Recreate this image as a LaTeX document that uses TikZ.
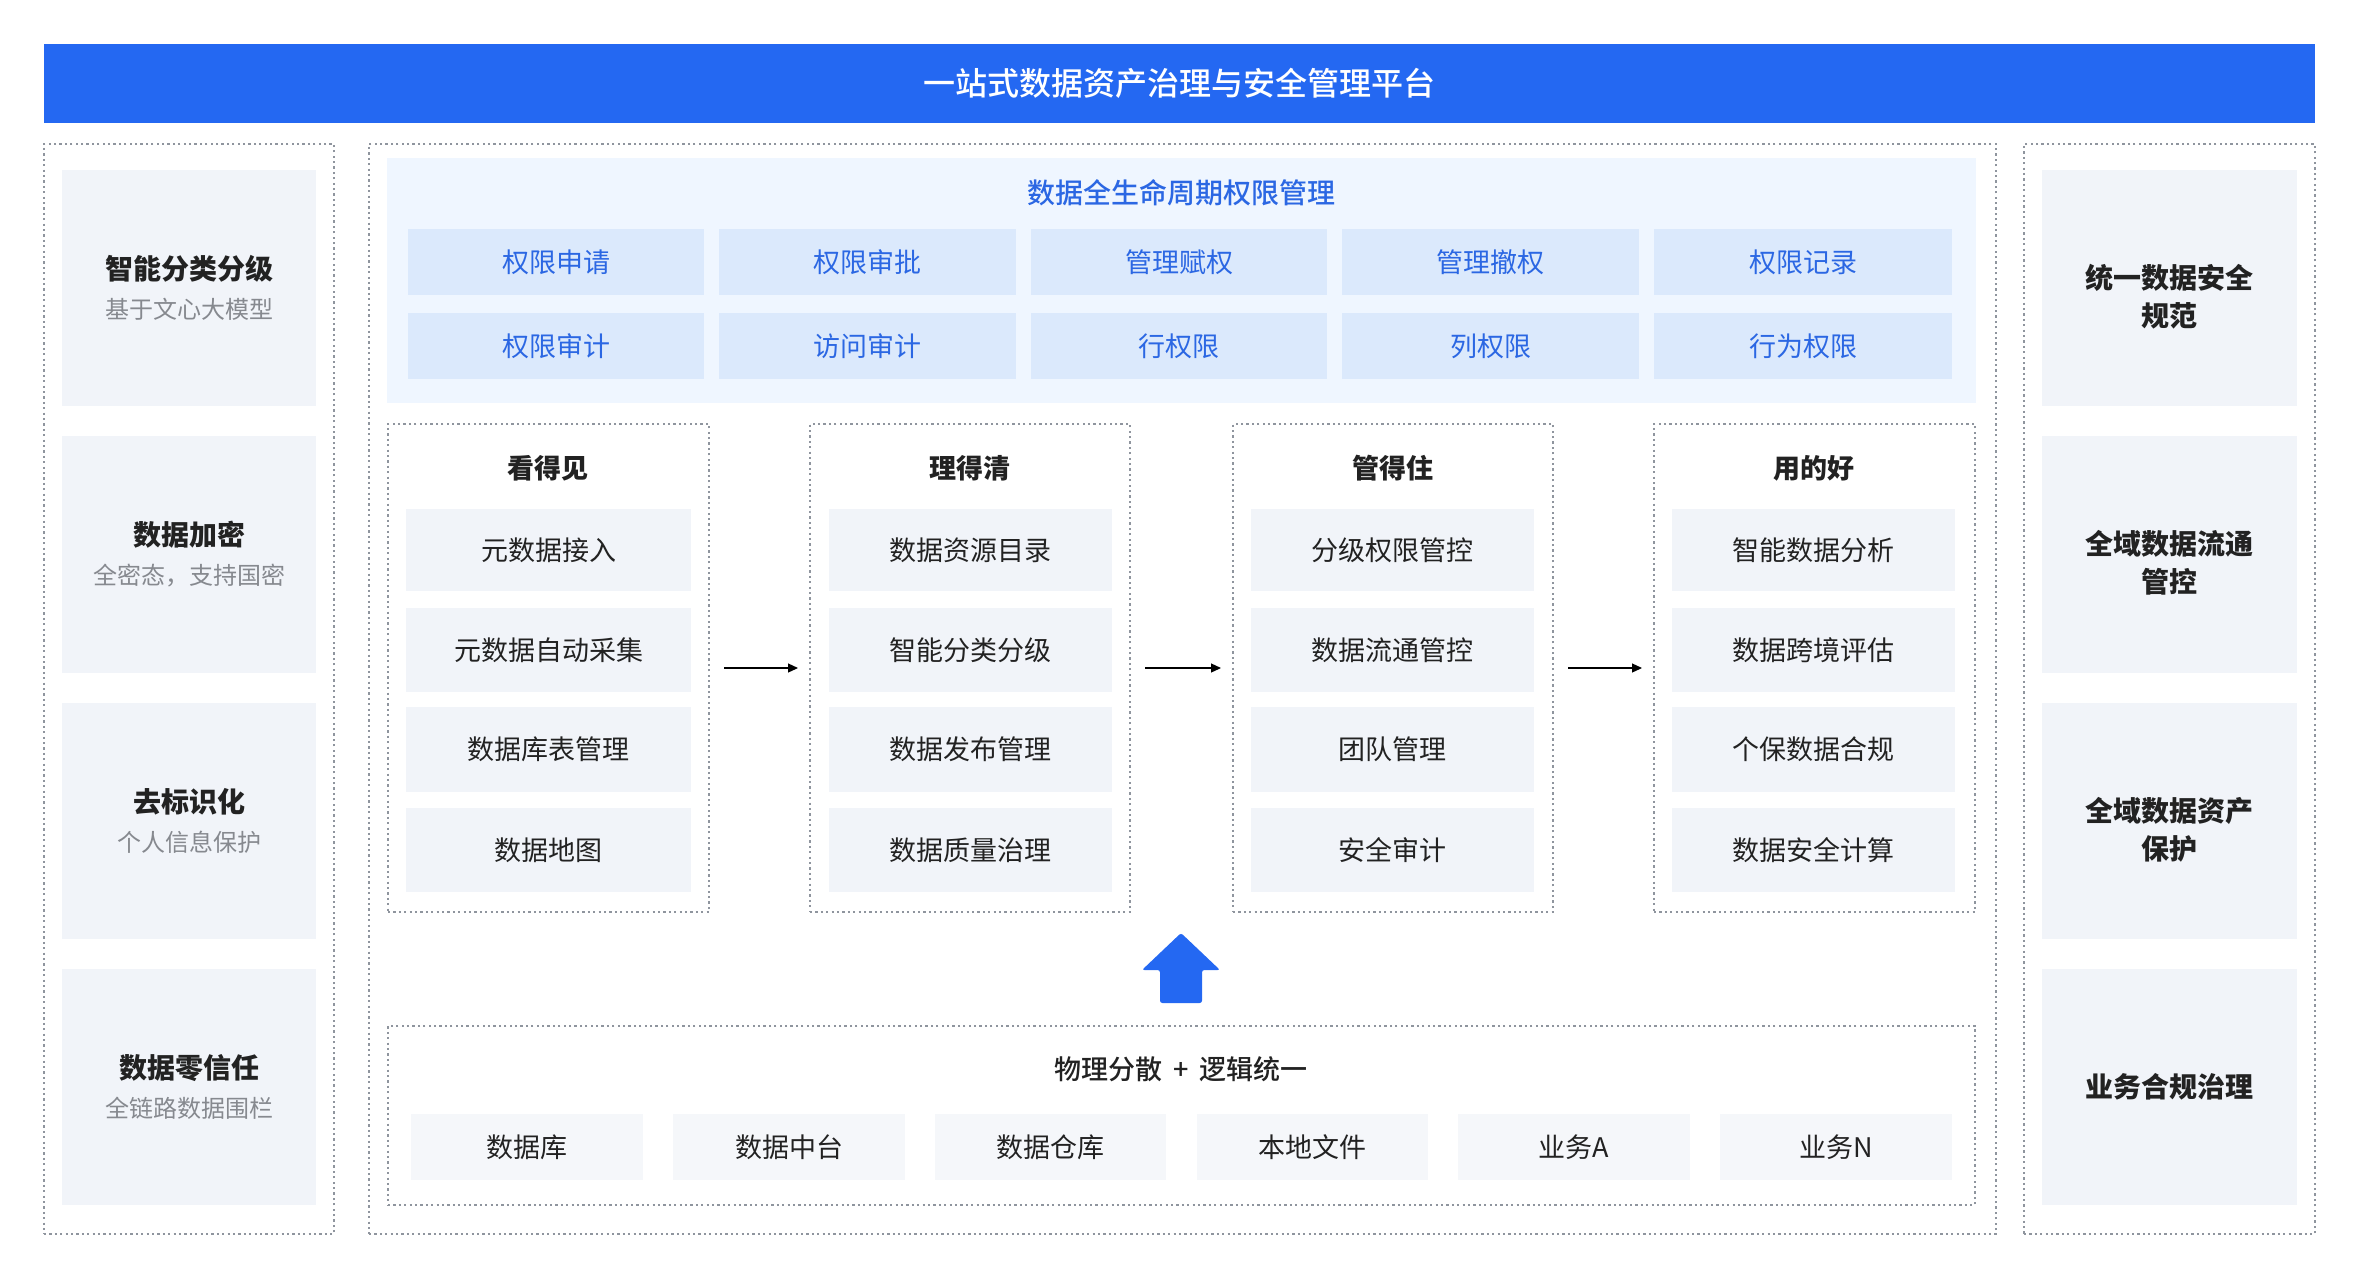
\documentclass[tikz,border=0pt]{standalone}
\usepackage{fontspec}
\setmainfont{Noto Sans CJK SC}
\newfontfamily\medfont{Noto Sans CJK SC Medium}
\usetikzlibrary{arrows.meta}
\definecolor{barblue}{HTML}{2468F2}
\definecolor{panelbg}{HTML}{EFF6FF}
\definecolor{cellbg}{HTML}{DBE9FC}
\definecolor{celltext}{HTML}{2B67E3}
\definecolor{graybg}{HTML}{F1F4F9}
\definecolor{srcbg}{HTML}{F5F7FA}
\definecolor{dotline}{HTML}{8F959E}
\definecolor{darktext}{HTML}{222222}
\definecolor{subtext}{HTML}{86898F}
\newcommand\mkbox[7]{\node[#6, minimum width={(#4-#2)*0.5pt}, minimum height={(#5-#3)*0.5pt}] (#1) at ({(#2+#4)/2},{(#3+#5)/2}) {#7};}
\tikzset{
  base/.style={inner sep=0pt, outer sep=0pt, anchor=center, align=center},
  bar/.style={base, fill=barblue, text=white, font=\fontsize{16pt}{20pt}\selectfont\medfont},
  dotbox/.style={base, draw=dotline, line width=0.7pt, dash pattern=on 1.1pt off 1.6pt},
  sidebox/.style={base, fill=graybg, text=darktext, font=\fontsize{14pt}{19.5pt}\selectfont},
  sidelabel/.style={base, text=darktext, font=\fontsize{14pt}{19pt}\selectfont\bfseries},
  panel/.style={base, fill=panelbg},
  cell/.style={base, fill=cellbg, text=celltext, font=\fontsize{13.5pt}{16pt}\selectfont},
  item/.style={base, fill=graybg, text=darktext, font=\fontsize{13.5pt}{16pt}\selectfont},
  src/.style={base, fill=srcbg, text=darktext, font=\fontsize{13.5pt}{16pt}\selectfont},
  ptitle/.style={base, text=celltext, font=\fontsize{14pt}{16pt}\selectfont\medfont},
  htitle/.style={base, text=darktext, font=\fontsize{13.5pt}{16pt}\selectfont\bfseries},
  btitle/.style={base, text=darktext, font=\fontsize{13.5pt}{16pt}\selectfont\medfont},
  flow/.style={-{Triangle[length=5pt,width=4.5pt]}, line width=0.6pt, draw=black},
}
\newcommand\sidetext[2]{{\bfseries #1}\\{\fontsize{12pt}{19.5pt}\selectfont\color{subtext}#2}}
\begin{document}
\begin{tikzpicture}[x=0.5pt,y=-0.5pt]
\useasboundingbox (0,0) rectangle (2360,1280);
% title bar
\mkbox{bar}{44}{44}{2315}{123}{bar}{一站式数据资产治理与安全管理平台}
% left column
\mkbox{L}{44}{144}{334}{1234}{dotbox}{}
\mkbox{L1}{62}{170}{316}{406}{sidebox}{\sidetext{智能分类分级}{基于文心大模型}}
\mkbox{L2}{62}{436}{316}{673}{sidebox}{\sidetext{数据加密}{全密态，支持国密}}
\mkbox{L3}{62}{703}{316}{939}{sidebox}{\sidetext{去标识化}{个人信息保护}}
\mkbox{L4}{62}{969}{316}{1205}{sidebox}{\sidetext{数据零信任}{全链路数据围栏}}
% right column
\mkbox{R}{2024}{144}{2315}{1234}{dotbox}{}
\mkbox{R1}{2042}{170}{2297}{406}{sidebox}{}
\mkbox{R2}{2042}{436}{2297}{673}{sidebox}{}
\mkbox{R3}{2042}{703}{2297}{939}{sidebox}{}
\mkbox{R4}{2042}{969}{2297}{1205}{sidebox}{}
\node[sidelabel] (R1t) at (2169,297) {统一数据安全\\规范};
\node[sidelabel] (R2t) at (2169,563) {全域数据流通\\管控};
\node[sidelabel] (R3t) at (2169,830) {全域数据资产\\保护};
\node[sidelabel] (R4t) at (2169,1087) {业务合规治理};
% center container
\mkbox{C}{369}{144}{1996}{1234}{dotbox}{}
% permission panel
\mkbox{P}{387}{158}{1976}{403}{panel}{}
\node[ptitle] (Ptitle) at (1181,193) {数据全生命周期权限管理};
\mkbox{P11}{408}{229}{704}{295}{cell}{权限申请}
\mkbox{P12}{719}{229}{1016}{295}{cell}{权限审批}
\mkbox{P13}{1031}{229}{1327}{295}{cell}{管理赋权}
\mkbox{P14}{1342}{229}{1639}{295}{cell}{管理撤权}
\mkbox{P15}{1654}{229}{1952}{295}{cell}{权限记录}
\mkbox{P21}{408}{313}{704}{379}{cell}{权限审计}
\mkbox{P22}{719}{313}{1016}{379}{cell}{访问审计}
\mkbox{P23}{1031}{313}{1327}{379}{cell}{行权限}
\mkbox{P24}{1342}{313}{1639}{379}{cell}{列权限}
\mkbox{P25}{1654}{313}{1952}{379}{cell}{行为权限}
% stage columns
\mkbox{S1}{388}{424}{709}{912}{dotbox}{}
\mkbox{S2}{810}{424}{1130}{912}{dotbox}{}
\mkbox{S3}{1233}{424}{1553}{912}{dotbox}{}
\mkbox{S4}{1654}{424}{1975}{912}{dotbox}{}
\node[htitle] (H1) at (548,468) {看得见};
\node[htitle] (H2) at (970,468) {理得清};
\node[htitle] (H3) at (1393,468) {管得住};
\node[htitle] (H4) at (1814,468) {用的好};
\mkbox{A1}{406}{509}{691}{591}{item}{元数据接入}
\mkbox{A2}{406}{608}{691}{692}{item}{元数据自动采集}
\mkbox{A3}{406}{707}{691}{792}{item}{数据库表管理}
\mkbox{A4}{406}{808}{691}{892}{item}{数据地图}
\mkbox{B1}{829}{509}{1112}{591}{item}{数据资源目录}
\mkbox{B2}{829}{608}{1112}{692}{item}{智能分类分级}
\mkbox{B3}{829}{707}{1112}{792}{item}{数据发布管理}
\mkbox{B4}{829}{808}{1112}{892}{item}{数据质量治理}
\mkbox{D1}{1251}{509}{1534}{591}{item}{分级权限管控}
\mkbox{D2}{1251}{608}{1534}{692}{item}{数据流通管控}
\mkbox{D3}{1251}{707}{1534}{792}{item}{团队管理}
\mkbox{D4}{1251}{808}{1534}{892}{item}{安全审计}
\mkbox{E1}{1672}{509}{1955}{591}{item}{智能数据分析}
\mkbox{E2}{1672}{608}{1955}{692}{item}{数据跨境评估}
\mkbox{E3}{1672}{707}{1955}{792}{item}{个保数据合规}
\mkbox{E4}{1672}{808}{1955}{892}{item}{数据安全计算}
\draw[flow] ([xshift=7.5pt]S1.east) -- ([xshift=-6pt]S2.west);
\draw[flow] ([xshift=7.5pt]S2.east) -- ([xshift=-6pt]S3.west);
\draw[flow] ([xshift=7.5pt]S3.east) -- ([xshift=-6pt]S4.west);
% blue up arrow
\fill[barblue, rounded corners=1.2pt] (1181,933) -- (1220,970) -- (1202,970) -- (1202,1003) -- (1160,1003) -- (1160,970) -- (1142,970) -- cycle;
% bottom sources
\mkbox{Bot}{388}{1026}{1975}{1205}{dotbox}{}
\node[btitle] (Btitle) at (1181,1069) {物理分散 \,+\, 逻辑统一};
\mkbox{Q1}{411}{1114}{643}{1180}{src}{数据库}
\mkbox{Q2}{673}{1114}{905}{1180}{src}{数据中台}
\mkbox{Q3}{935}{1114}{1166}{1180}{src}{数据仓库}
\mkbox{Q4}{1197}{1114}{1428}{1180}{src}{本地文件}
\mkbox{Q5}{1458}{1114}{1690}{1180}{src}{业务A}
\mkbox{Q6}{1720}{1114}{1952}{1180}{src}{业务N}
\end{tikzpicture}
\end{document}
